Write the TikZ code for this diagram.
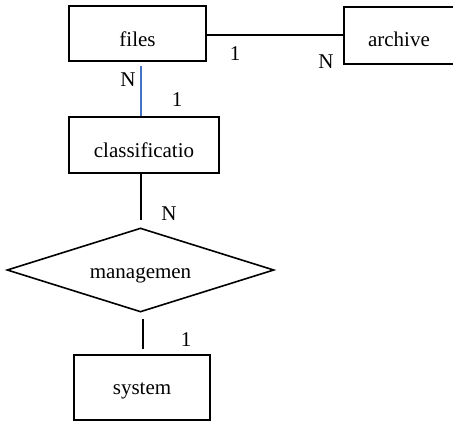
\documentclass[tikz,border=0pt]{standalone}
\usepackage{fontspec}
\setmainfont{Liberation Serif}
\usepackage{tikz}
\usetikzlibrary{shapes.geometric}
\definecolor{linkblue}{RGB}{68,114,196}

\begin{document}
\begin{tikzpicture}[x=1pt, y=-1pt, line width=1.6pt,
	entity/.style={draw, rectangle, inner sep=0pt, text depth=0pt, font=\fontsize{21}{25}\selectfont},
	relation/.style={draw, diamond, inner sep=0pt, aspect=3.18, text depth=0pt, font=\fontsize{21}{25}\selectfont},
	card/.style={font=\fontsize{21}{25}\selectfont, inner sep=0pt}]
	\useasboundingbox (0, 0) rectangle (453, 421);

	\node[entity, minimum width=137pt, minimum height=55pt, text height=25pt] (files) at (137.5, 33.5) {files};
	\node[entity, minimum width=110pt, minimum height=57pt, text height=21pt] (archive) at (399, 35.5) {archive};
	\node[entity, minimum width=150pt, minimum height=56pt, text height=24pt] (classif) at (144, 145) {classificatio};
	\node[relation, minimum width=267pt, minimum height=84pt, text height=16pt] (manage) at (140.5, 270) {managemen};
	\node[entity, minimum width=136pt, minimum height=65pt, text height=13pt] (system) at (142, 387.5) {system};

	\draw ([yshift=-1.5pt]files.east) -- ([yshift=-1.5pt]archive.west |- files.east);
	\draw[linkblue, shorten <=4pt] ([xshift=3.5pt]files.south) -- ([xshift=-3pt]classif.north);
	\draw[shorten >=7pt] ([xshift=-3pt]classif.south) -- ([xshift=-3pt]classif.south |- manage.north);
	\draw[shorten <=6pt, shorten >=5pt] ([xshift=2.5pt]manage.south) -- ([xshift=2.5pt]manage.south |- system.north);

	\node[card] (c1) at (235, 54) {1};
	\node[card] (c2) at (326, 62) {N};
	\node[card] (c3) at (128, 80) {N};
	\node[card] (c4) at (177, 100) {1};
	\node[card] (c5) at (169, 214) {N};
	\node[card] (c6) at (186, 340) {1};
\end{tikzpicture}
\end{document}
